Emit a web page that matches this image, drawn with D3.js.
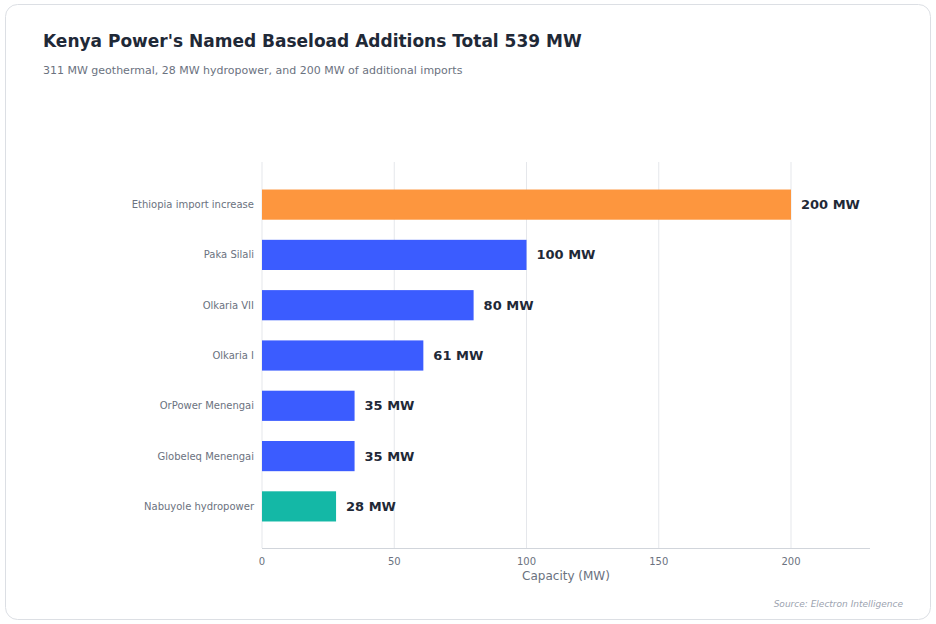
<!DOCTYPE html>
<html><head><meta charset="utf-8">
<script src="https://cdn.jsdelivr.net/npm/d3@7"></script>
<style>body{margin:0;background:#fff;font-family:"DejaVu Sans",sans-serif;}</style>
</head><body><svg id="c" width="936" height="624"></svg>
<script>
const categories=["Ethiopia import increase","Paka Silali","Olkaria VII","Olkaria I","OrPower Menengai","Globeleq Menengai","Nabuyole hydropower"];
const values=[200,100,80,61,35,35,28];
const types=["import","geo","geo","geo","geo","geo","hydro"];
const ticks=[0,50,100,150,200];
const colors={import:"#fd963e",geo:"#3b5cff",hydro:"#14b8a6"};
const svg=d3.select("#c");
svg.append("rect").attr("x",5.5).attr("y",4.5).attr("width",925).attr("height",615).attr("rx",12).attr("fill","#fff").attr("stroke","#dcdfe4");
svg.append("text").attr("x",43).attr("y",47).attr("font-size",17).attr("font-weight","bold").attr("fill","#1f2937").text("Kenya Power's Named Baseload Additions Total 539 MW");
svg.append("text").attr("x",43).attr("y",74).attr("font-size",11).attr("fill","#6b7280").text("311 MW geothermal, 28 MW hydropower, and 200 MW of additional imports");
const x=d3.scaleLinear().domain([0,200]).range([262,791]);
const y=d3.scaleBand().domain(categories).range([169.4,541.6]).padding(0.4);
const g=svg.append("g");
g.selectAll("line.grid").data(ticks).join("line").attr("x1",d=>x(d)).attr("x2",d=>x(d)).attr("y1",162).attr("y2",548).attr("stroke","#e5e7eb");
g.selectAll("rect.bar").data(categories).join("rect").attr("x",x(0)).attr("y",d=>y(d)).attr("height",y.bandwidth()).attr("width",(d,i)=>x(values[i])-x(0)).attr("fill",(d,i)=>colors[types[i]]);
g.selectAll("text.val").data(categories).join("text").attr("x",(d,i)=>x(values[i])+10).attr("y",d=>y(d)+y.bandwidth()/2).attr("dy","0.35em").attr("font-size",13).attr("font-weight","bold").attr("fill","#1f2937").text((d,i)=>values[i]+" MW");
g.selectAll("text.cat").data(categories).join("text").attr("x",254).attr("y",d=>y(d)+y.bandwidth()/2).attr("dy","0.35em").attr("text-anchor","end").attr("font-size",10).attr("fill","#6b7280").text(d=>d);
g.append("line").attr("x1",262).attr("x2",870).attr("y1",548.5).attr("y2",548.5).attr("stroke","#d1d5db");
g.selectAll("text.tick").data(ticks).join("text").attr("x",d=>x(d)).attr("y",565).attr("text-anchor","middle").attr("font-size",10).attr("fill","#6b7280").text(d=>d);
svg.append("text").attr("x",566).attr("y",580).attr("text-anchor","middle").attr("font-size",12).attr("fill","#6b7280").text("Capacity (MW)");
svg.append("text").attr("x",903).attr("y",607).attr("text-anchor","end").attr("font-size",9).attr("font-style","italic").attr("fill","#9ca3af").text("Source: Electron Intelligence");
</script></body></html>
